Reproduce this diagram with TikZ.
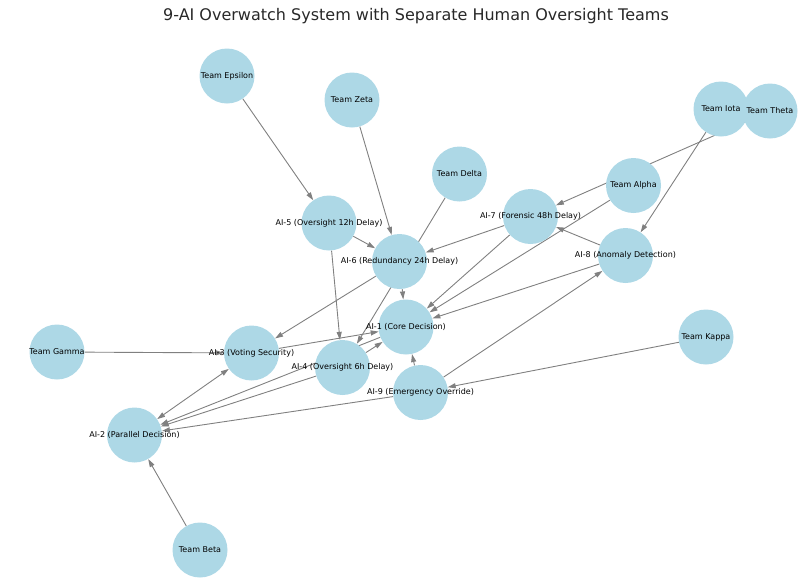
\documentclass[tikz,border=0pt]{standalone}
\usepackage{fontspec}
\setmainfont{DejaVu Sans}
\usetikzlibrary{arrows.meta}
\definecolor{nodeblue}{RGB}{173,216,230}
\definecolor{edgegray}{RGB}{128,128,128}
\definecolor{textgray}{RGB}{40,40,40}
\pgfdeclarelayer{bg}
\pgfsetlayers{bg,main}
\tikzset{
  agent/.style={circle, fill=nodeblue, minimum size=55pt, inner sep=0pt,
    label={[font=\fontsize{8}{9.6}\selectfont, text=black]center:#1}},
  link/.style={draw=edgegray, line width=0.9pt, -{Triangle[length=8pt,width=5pt]}},
}

\begin{document}
\begin{tikzpicture}[x=1pt, y=-1pt]
  \useasboundingbox (0,0) rectangle (806,587);
  \node[text=textgray, font=\fontsize{16}{19}\selectfont] (title) at (416,16) {9-AI Overwatch System with Separate Human Oversight Teams};

  %% AI nodes
  \node[agent={AI-1 (Core Decision)}] (ai1) at (406,327) {};
  \node[agent={AI-2 (Parallel Decision)}] (ai2) at (134.5,435) {};
  \node[agent={AI-3 (Voting Security)}] (ai3) at (251.5,353) {};
  \node[agent={AI-4 (Oversight 6h Delay)}] (ai4) at (342.5,367.5) {};
  \node[agent={AI-5 (Oversight 12h Delay)}] (ai5) at (329,223) {};
  \node[agent={AI-6 (Redundancy 24h Delay)}] (ai6) at (399.5,261.5) {};
  \node[agent={AI-7 (Forensic 48h Delay)}] (ai7) at (530.5,216.5) {};
  \node[agent={AI-8 (Anomaly Detection)}] (ai8) at (625.5,255.5) {};
  \node[agent={AI-9 (Emergency Override)}] (ai9) at (420.5,392.5) {};

  %% Human oversight teams
  \node[agent={Team Alpha}] (alpha) at (633.5,185.5) {};
  \node[agent={Team Beta}] (beta) at (200,550) {};
  \node[agent={Team Gamma}] (gamma) at (57,352) {};
  \node[agent={Team Delta}] (delta) at (459.5,174) {};
  \node[agent={Team Epsilon}] (epsilon) at (227,76) {};
  \node[agent={Team Zeta}] (zeta) at (352,100) {};
  \node[agent={Team Iota}] (iota) at (721,109) {};
  \node[agent={Team Theta}] (theta) at (770,111) {};
  \node[agent={Team Kappa}] (kappa) at (706,337) {};

  %% Edges (behind the nodes)
  \begin{pgfonlayer}{bg}
  \draw[link] (epsilon) -- (ai5);
  \draw[link] (zeta) -- (ai6);
  \draw[link] (delta) -- (ai4);
  \draw[link] (ai5) -- (ai6);
  \draw[link] (ai5) -- (ai4);
  \draw[link] (ai6) -- (ai1);
  \draw[link] (ai6) -- (ai3);
  \draw[link] (ai7) -- (ai6);
  \draw[link] (ai7) -- (ai1);
  \draw[link] (alpha) -- (ai1);
  \draw[link] (ai8) -- (ai1);
  \draw[link] (ai8) -- (ai7);
  \draw[link] (theta) -- (ai7);
  \draw[link] (iota) -- (ai8);
  \draw[link] (ai9) -- (ai8);
  \draw[link] (kappa) -- (ai9);
  \draw[link] (ai9) -- (ai1);
  \draw[link] (ai9) -- (ai2);
  \draw[link] (gamma) -- (ai3);
  \draw[link] (ai3) -- (ai1);
  \draw[link] (ai4) -- (ai1);
  \draw[link] (ai4) -- (ai2);
  \draw[link] (ai1) -- (ai2);
  \draw[link, {Triangle[length=8pt,width=5pt]}-{Triangle[length=8pt,width=5pt]}] (ai2) -- (ai3);
  \draw[link] (beta) -- (ai2);
  \end{pgfonlayer}
\end{tikzpicture}
\end{document}
